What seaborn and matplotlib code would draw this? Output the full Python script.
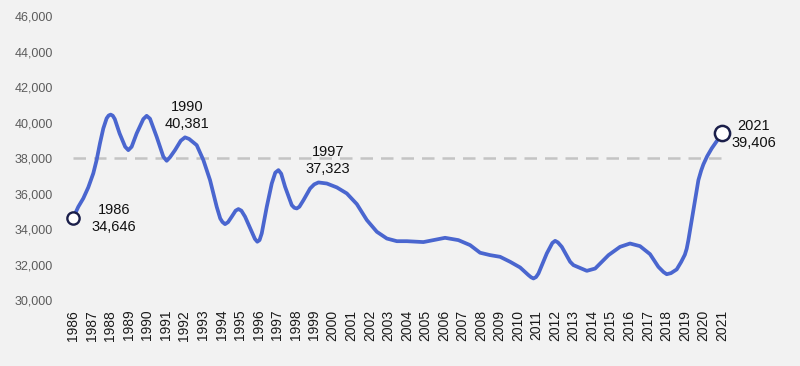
import pandas as pd
import matplotlib.pyplot as plt
import seaborn as sns
from matplotlib.ticker import FuncFormatter

# values (fractional year, value)
years = [1986.00, 1986.27, 1986.54, 1986.81, 1987.08, 1987.26, 1987.44, 1987.62, 1987.80, 1987.91,
         1988.02, 1988.13, 1988.24, 1988.50, 1988.80, 1988.97, 1989.15, 1989.42, 1989.78, 1989.96,
         1990.14, 1990.50, 1990.86, 1991.04, 1991.22, 1991.49, 1991.80, 1992.03, 1992.25, 1992.66,
         1993.02, 1993.38, 1993.74, 1993.93, 1994.05, 1994.19, 1994.35, 1994.55, 1994.76, 1994.91,
         1995.07, 1995.27, 1995.63, 1995.80, 1995.93, 1996.05, 1996.17, 1996.44, 1996.71, 1996.90,
         1997.07, 1997.22, 1997.43, 1997.79, 1997.93, 1998.06, 1998.20, 1998.42, 1998.78, 1999.00,
         1999.23, 1999.68, 2000.22, 2000.76, 2001.30, 2001.84, 2002.38, 2002.92, 2003.46, 2004.00,
         2004.89, 2005.43, 2006.06, 2006.78, 2007.41, 2007.95, 2008.49, 2009.03, 2009.57, 2010.11,
         2010.56, 2010.70, 2010.83, 2010.97, 2011.10, 2011.55, 2011.85, 2012.00, 2012.15, 2012.36,
         2012.81, 2012.99, 2013.71, 2014.16, 2014.88, 2015.50, 2016.04, 2016.58, 2017.12, 2017.57,
         2017.85, 2018.02, 2018.25, 2018.56, 2018.80, 2019.00, 2019.10, 2019.19, 2019.46, 2019.73,
         2019.88, 2020.00, 2020.20, 2020.45, 2020.75, 2021.00]
values = [34646, 35256, 35730, 36350, 37140, 37890, 38830, 39670, 40240, 40400,
          40450, 40390, 40200, 39390, 38640, 38450, 38640, 39390, 40200, 40381,
          40220, 39200, 38080, 37850, 38050, 38450, 38980, 39170, 39080, 38730,
          37890, 36760, 35256, 34600, 34400, 34280, 34390, 34700, 35040, 35130,
          35040, 34700, 33850, 33450, 33290, 33380, 33760, 35256, 36570, 37180,
          37323, 37120, 36380, 35350, 35200, 35165, 35260, 35630, 36290, 36520,
          36630, 36570, 36350, 36010, 35410, 34510, 33850, 33470, 33320, 33320,
          33270, 33380, 33510, 33380, 33100, 32670, 32535, 32440, 32160, 31840,
          31410, 31290, 31220, 31300, 31500, 32630, 33220, 33340, 33250, 33000,
          32160, 31970, 31650, 31780, 32535, 33000, 33190, 33040, 32590, 31875,
          31580, 31460, 31520, 31730, 32150, 32560, 32900, 33380, 35070, 36760,
          37300, 37650, 38100, 38550, 39000, 39406]

labels_year = [1986, 1990, 1997, 2021]
labels_value = [34646, 40381, 37323, 39406]
ref_level = 38000

df = pd.DataFrame({"year": years, "value": values})

sns.set_style("white", {"axes.facecolor": "#f2f2f2", "figure.facecolor": "#f2f2f2"})
plt.rcParams["font.family"] = ["Liberation Sans", "DejaVu Sans"]

fig = plt.figure(figsize=(8, 3.66), dpi=100)
ax = fig.add_axes([0.08, 0.18, 0.834, 0.776])

# dashed reference line
ax.plot([labels_year[0], labels_year[-1]], [ref_level, ref_level], color="#c4c4c4",
        linewidth=1.8, dashes=(5, 3.2), zorder=1)

sns.lineplot(data=df, x="year", y="value", ax=ax, color="#4a66cf", linewidth=2.7,
             estimator=None, sort=False, zorder=2)
ax.lines[-1].set_solid_joinstyle("round")
ax.lines[-1].set_solid_capstyle("round")

# end markers
ax.scatter([labels_year[0]], [labels_value[0]], s=78, facecolor="white",
           edgecolor="#1b1f4a", linewidth=1.7, zorder=4, clip_on=False)
ax.scatter([labels_year[-1]], [labels_value[-1]], s=120, facecolor="white",
           edgecolor="#1b1f4a", linewidth=1.8, zorder=4, clip_on=False)

offsets = [(41, -1), (40, 0), (51, 10), (32, -1)]
for yr, val, off in zip(labels_year, labels_value, offsets):
    ax.annotate(f"{yr}\n{val:,}", xy=(yr, val), xytext=off, textcoords="offset pixels",
                ha="center", va="center", fontsize=10.5, color="#111111", linespacing=1.25)

ax.set_xlim(1985.5, 2021.5)
ax.set_ylim(30000, 46000)
ax.set_xticks(list(range(1986, 2022)))
ax.set_yticks(list(range(30000, 46001, 2000)))
ax.yaxis.set_major_formatter(FuncFormatter(lambda v, p: f"{int(v):,}"))
ax.tick_params(axis="x", length=0, pad=7, labelsize=10, labelrotation=90, labelcolor="#1a1a1a")
ax.tick_params(axis="y", length=0, pad=8, labelsize=9, labelcolor="#5c5c5c")
ax.set_xlabel("")
ax.set_ylabel("")
for s in ax.spines.values():
    s.set_visible(False)

fig.savefig("out.png", dpi=100, facecolor=fig.get_facecolor())
